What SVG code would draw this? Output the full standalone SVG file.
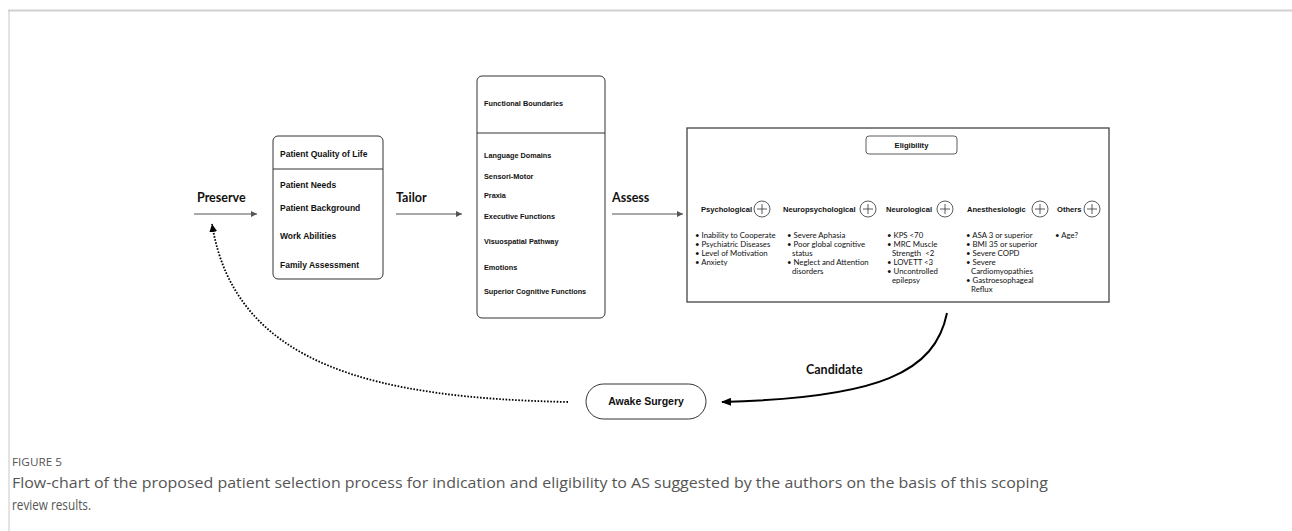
<svg xmlns="http://www.w3.org/2000/svg" width="1292" height="531" viewBox="0 0 1292 531">
<defs>
<style>
.box{fill:#fff;stroke:#333;stroke-width:1}
.bt{font-family:"Liberation Sans",Arial,sans-serif;font-weight:bold;fill:#111}
.lbl{font-family:Lato,"Liberation Sans",sans-serif;font-weight:bold;font-size:12.5px;fill:#111}
.bul{font-family:Lato,"Liberation Sans",sans-serif;font-size:7.8px;fill:#111}
.hd{font-family:"Liberation Sans",Arial,sans-serif;font-weight:bold;font-size:7.6px;fill:#111}
.plus{fill:#fff;stroke:#333;stroke-width:0.8}
.ln{stroke:#555;stroke-width:1.2;fill:none}
.cap{font-family:"Open Sans","Liberation Sans",sans-serif;fill:#555}
</style>
<marker id="ah" viewBox="0 0 6 6" refX="6" refY="3" markerWidth="6" markerHeight="6" markerUnits="userSpaceOnUse" orient="auto"><path d="M0,0 L6,3 L0,6 z" fill="#555"/></marker>
<marker id="ahb" viewBox="0 0 10 8" refX="9" refY="4" markerWidth="10" markerHeight="8" markerUnits="userSpaceOnUse" orient="auto"><path d="M0,0 L10,4 L0,8 z" fill="#000"/></marker>
<marker id="ahd" viewBox="0 0 8 8" refX="8" refY="4" markerWidth="8" markerHeight="8" markerUnits="userSpaceOnUse" orient="auto"><path d="M0,0 L8,4 L0,8 z" fill="#000"/></marker>
</defs>
<rect width="1292" height="531" fill="#fff"/>
<g id="frame">
<line x1="8" y1="10.5" x2="1292" y2="10.5" stroke="#d0d0d0" stroke-width="2"/>
<line x1="9" y1="11" x2="9" y2="531" stroke="#c8c8c8" stroke-width="1"/>
</g>
<g id="connectors">
<line class="ln" x1="194" y1="214" x2="257" y2="214" marker-end="url(#ah)"/>
<line class="ln" x1="396" y1="214" x2="462" y2="214" marker-end="url(#ah)"/>
<line class="ln" x1="612" y1="214" x2="683" y2="214" marker-end="url(#ah)"/>
<path d="M947,313 C935,372 880,398 722,402" fill="none" stroke="#000" stroke-width="2" marker-end="url(#ahb)"/>
<path d="M568,402 C380,398 235,368 212,224" fill="none" stroke="#000" stroke-width="1.8" stroke-dasharray="1.6 1.6" marker-end="url(#ahd)"/>
<text class="lbl" x="197" y="202">Preserve</text>
<text class="lbl" x="396" y="202">Tailor</text>
<text class="lbl" x="612" y="202">Assess</text>
<text class="lbl" x="806" y="374">Candidate</text>
</g>
<g id="node-quality">
<rect class="box" x="273" y="136" width="110" height="143" rx="5"/>
<line x1="273" y1="169" x2="383" y2="169" stroke="#333" stroke-width="1"/>
<g class="bt" font-size="8.5">
<text x="280" y="157">Patient Quality of Life</text>
<text x="280" y="188">Patient Needs</text>
<text x="280" y="211">Patient Background</text>
<text x="280" y="239">Work Abilities</text>
<text x="280" y="268">Family Assessment</text>
</g>
</g>
<g id="node-functional">
<rect class="box" x="477" y="76" width="128" height="242" rx="5"/>
<line x1="477" y1="133" x2="605" y2="133" stroke="#333" stroke-width="1"/>
<g class="bt" font-size="7.3">
<text x="484" y="106">Functional Boundaries</text>
<text x="484" y="158">Language Domains</text>
<text x="484" y="179">Sensori-Motor</text>
<text x="484" y="198">Praxia</text>
<text x="484" y="219">Executive Functions</text>
<text x="484" y="244">Visuospatial Pathway</text>
<text x="484" y="270">Emotions</text>
<text x="484" y="294">Superior Cognitive Functions</text>
</g>
</g>
<g id="node-eligibility">
<rect x="687" y="128" width="422" height="174" fill="#fff" stroke="#444" stroke-width="1.3"/>
<rect x="866" y="136" width="91" height="18" rx="3" fill="#fff" stroke="#333" stroke-width="0.8"/>
<text class="hd" x="911.5" y="148" text-anchor="middle">Eligibility</text>
<g id="psych">
<text class="hd" x="701" y="212">Psychological</text>
<circle class="plus" cx="762" cy="209" r="8"/><path d="M757,209 H767 M762,204 V214" stroke="#333" stroke-width="0.8"/>
<text class="bul" x="695" y="238">• Inability to Cooperate</text>
<text class="bul" x="695" y="247">• Psychiatric Diseases</text>
<text class="bul" x="695" y="256">• Level of Motivation</text>
<text class="bul" x="695" y="265">• Anxiety</text>
</g>
<g id="neuropsych">
<text class="hd" x="783" y="212">Neuropsychological</text>
<circle class="plus" cx="868" cy="209" r="8"/><path d="M863,209 H873 M868,204 V214" stroke="#333" stroke-width="0.8"/>
<text class="bul" x="787" y="238">• Severe Aphasia</text>
<text class="bul" x="787" y="247">• Poor global cognitive</text>
<text class="bul" x="792" y="256">status</text>
<text class="bul" x="787" y="265">• Neglect and Attention</text>
<text class="bul" x="792" y="274">disorders</text>
</g>
<g id="neuro">
<text class="hd" x="886" y="212">Neurological</text>
<circle class="plus" cx="945" cy="209" r="8"/><path d="M940,209 H950 M945,204 V214" stroke="#333" stroke-width="0.8"/>
<text class="bul" x="887" y="238">• KPS &lt;70</text>
<text class="bul" x="887" y="247">• MRC Muscle</text>
<text class="bul" x="892" y="256" xml:space="preserve">Strength  &lt;2</text>
<text class="bul" x="887" y="265">• LOVETT &lt;3</text>
<text class="bul" x="887" y="274">• Uncontrolled</text>
<text class="bul" x="892" y="283">epilepsy</text>
</g>
<g id="anesth">
<text class="hd" x="967" y="212">Anesthesiologic</text>
<circle class="plus" cx="1040" cy="209" r="8"/><path d="M1035,209 H1045 M1040,204 V214" stroke="#333" stroke-width="0.8"/>
<text class="bul" x="966" y="238">• ASA 3 or superior</text>
<text class="bul" x="966" y="247">• BMI 35 or superior</text>
<text class="bul" x="966" y="256">• Severe COPD</text>
<text class="bul" x="966" y="265">• Severe</text>
<text class="bul" x="971" y="274">Cardiomyopathies</text>
<text class="bul" x="966" y="283">• Gastroesophageal</text>
<text class="bul" x="971" y="292">Reflux</text>
</g>
<g id="others">
<text class="hd" x="1057" y="212">Others</text>
<circle class="plus" cx="1092" cy="209" r="8"/><path d="M1087,209 H1097 M1092,204 V214" stroke="#333" stroke-width="0.8"/>
<text class="bul" x="1055" y="238">• Age?</text>
</g>
</g>
<g id="node-awake">
<rect x="586" y="384" width="120" height="35" rx="17.5" fill="#fff" stroke="#333" stroke-width="1"/>
<text class="bt" font-size="10.5" x="646" y="405" text-anchor="middle">Awake Surgery</text>
</g>
<g id="caption">
<text class="cap" x="12" y="466" font-size="11.5" textLength="50" lengthAdjust="spacingAndGlyphs">FIGURE 5</text>
<text class="cap" x="12" y="488" font-size="14" textLength="1036" lengthAdjust="spacingAndGlyphs">Flow-chart of the proposed patient selection process for indication and eligibility to AS suggested by the authors on the basis of this scoping</text>
<text class="cap" x="12" y="510" font-size="14" textLength="79" lengthAdjust="spacingAndGlyphs">review results.</text>
</g>
</svg>
